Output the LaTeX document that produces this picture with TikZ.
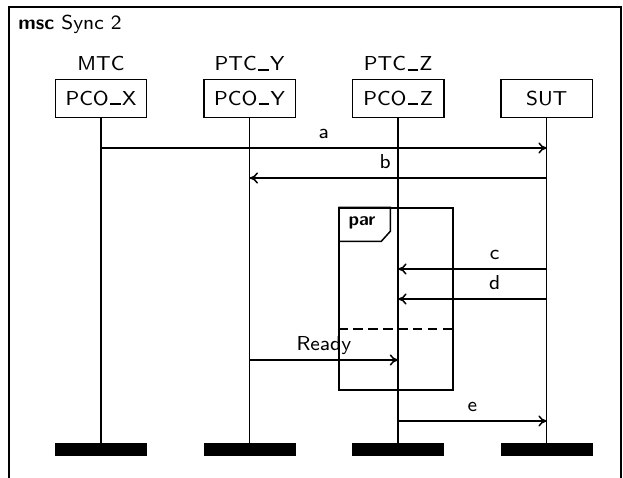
\documentclass[tikz,border=0pt]{standalone}
\usepackage{fontspec}
\setsansfont{lmsans8-regular.otf}[BoldFont=lmsans10-bold.otf]
\usetikzlibrary{arrows.meta,positioning}
\newcommand{\usc}{\kern.08em\rule{0.5em}{0.09em}\kern.08em}

\begin{document}
\begin{tikzpicture}[
  x=0.0188cm, y=-0.0188cm,
  font=\sffamily\fontsize{10.8}{13}\selectfont,
  node distance=1.045cm,
  head/.style={draw, line width=0.8pt, minimum width=1.72cm,
               minimum height=0.714cm, inner sep=0pt},
  inst/.style={inner sep=0pt, text depth=0pt},
  bar/.style={fill=black, minimum width=1.73cm, minimum height=0.245cm,
              inner sep=0pt},
  life/.style={line width=0.8pt},
  msg/.style={-{To[length=4.5pt,width=6pt]}, line width=0.8pt},
  lbl/.style={above=3.8pt, inner sep=1pt, text depth=0pt},
  parbox/.style={draw, line width=0.8pt, minimum width=2.14cm,
                 minimum height=3.42cm, inner sep=0pt}
]
\useasboundingbox (0,0) rectangle (623,478);
\draw[line width=0.8pt] (9,7) rectangle (621,490);
\node[anchor=base west, inner sep=0pt] (title) at (18,30) {\textbf{msc} Sync 2};

\node[head] (pcox) at (101,98.3) {PCO\usc X};
\node[head, right=of pcox] (pcoy) {PCO\usc Y};
\node[head, right=of pcoy] (pcoz) {PCO\usc Z};
\node[head, right=of pcoz] (sut) {SUT};

\node[inst, above=3.9pt of pcox] (mtc) {MTC};
\node[inst, above=3.9pt of pcoy] (ptcy) {PTC\usc Y};
\node[inst, above=3.9pt of pcoz] (ptcz) {PTC\usc Z};

\node[bar, below=6.11cm of pcox] (endx) {};
\node[bar, below=6.11cm of pcoy] (endy) {};
\node[bar, below=6.11cm of pcoz] (endz) {};
\node[bar, below=6.11cm of sut] (ends) {};

\draw[life] (pcox) -- (endx);
\draw[life] (pcoy) -- (endy);
\draw[life] (pcoz) -- (endz);
\draw[life] (sut) -- (ends);

\foreach \n/\y in {a/148,b/178,c/269,d/299,r/360,e/421}
  \coordinate (lv\n) at (0,\y);

\node[parbox] (par) at (396,299) {};
\draw[line width=0.8pt] (par.north west) -- ++(52,0) -- ++(0,24)
  -- ++(-9,10) -- ++(-43,0);
\node[font=\sffamily\bfseries, inner sep=0pt] (parlbl) at (362,223) {par};
\draw[line width=0.8pt, dash pattern=on 5pt off 3pt]
  (par.west |- 0,329) -- (par.east |- 0,329);

\draw[msg] (pcox |- lva) -- node[lbl]{a} (sut |- lva);
\draw[msg] (sut |- lvb) -- node[lbl, pos=0.544]{b} (pcoy |- lvb);
\draw[msg] (sut |- lvc) -- node[lbl, pos=0.35]{c} (pcoz |- lvc);
\draw[msg] (sut |- lvd) -- node[lbl, pos=0.35]{d} (pcoz |- lvd);
\draw[msg] (pcoy |- lvr) -- node[lbl]{Ready} (pcoz |- lvr);
\draw[msg] (pcoz |- lve) -- node[lbl]{e} (sut |- lve);

\end{tikzpicture}
\end{document}
